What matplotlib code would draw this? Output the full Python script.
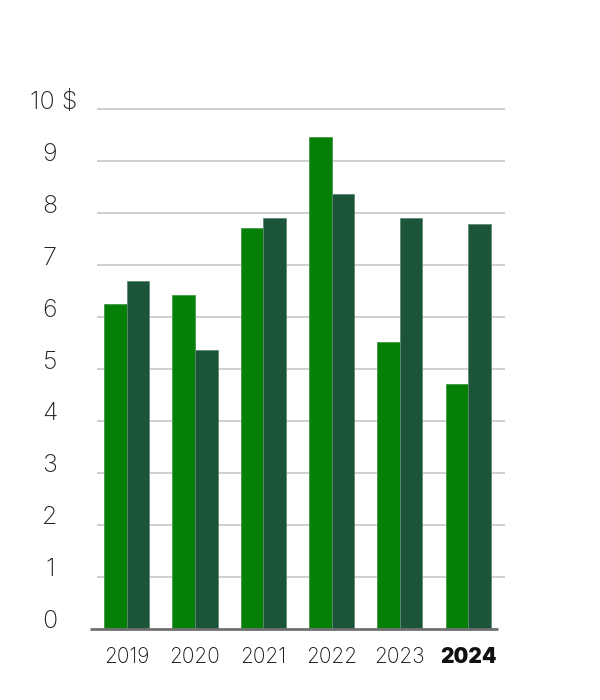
import matplotlib
matplotlib.use("Agg")
import matplotlib.pyplot as plt
import numpy as np

plt.rcParams['font.family'] = ['Inter', 'DejaVu Sans']

years = ["2019", "2020", "2021", "2022", "2023", "2024"]
series_a = [6.25, 6.42, 7.72, 9.46, 5.52, 4.72]
series_b = [6.69, 5.36, 7.91, 8.36, 7.91, 7.80]
y_ticks = [0, 1, 2, 3, 4, 5, 6, 7, 8, 9, 10]
y_labels = ["0", "1", "2", "3", "4", "5", "6", "7", "8", "9", "10 $"]

green = "#067f07"
dark = "#1c5439"

fig = plt.figure(figsize=(6, 7), dpi=100)
# axes spans x 90..505 px, y 0 at 628.7 px, 10 at 109.3 px
ax = fig.add_axes([90 / 600, 71.3 / 700, 415 / 600, 519.4 / 700])

x = np.arange(len(years))
w = 0.33
ax.bar(x - w / 2, series_a, w, color=green, edgecolor="#3f9a44", linewidth=0.6, zorder=3)
ax.bar(x + w / 2, series_b, w, color=dark, edgecolor="#5f8a74", linewidth=0.6, zorder=3)

px = 68.3
x0 = -(126.7 - 90) / px
x1 = (505 - 126.7) / px
ax.set_xlim(x0, x1)
ax.set_ylim(0, 10)

grid_left = -(126.7 - 96.7) / px
for t in y_ticks[1:]:
    ax.hlines(t, grid_left, x1, color="#c4c4c4", linewidth=1.1, zorder=1, clip_on=False)
ax.hlines(0, x0, (498 - 126.7) / px, color="#707070", linewidth=2, zorder=4, clip_on=False)

for s in ax.spines.values():
    s.set_visible(False)
ax.set_xticks([])
ax.set_yticks([])

# y labels sit a bit above the gridlines
for t, lab in zip(y_ticks, y_labels):
    ypx = 628.7 - t * 51.94 - 7
    if lab == "10 $":
        fig.text(30 / 600, 1 - ypx / 700, lab, ha="left", va="center", fontsize=18,
                 fontweight="light", color="#222222")
    else:
        fig.text(50 / 600, 1 - ypx / 700, lab, ha="center", va="center", fontsize=18,
                 fontweight="light", color="#222222")

for i, yr in enumerate(years):
    bold = yr == years[-1]
    ax.text(i, -0.55, yr, ha="center", va="center", fontsize=15,
            fontweight="black" if bold else "light", color="#111111")

fig.savefig("out.png", dpi=100)
